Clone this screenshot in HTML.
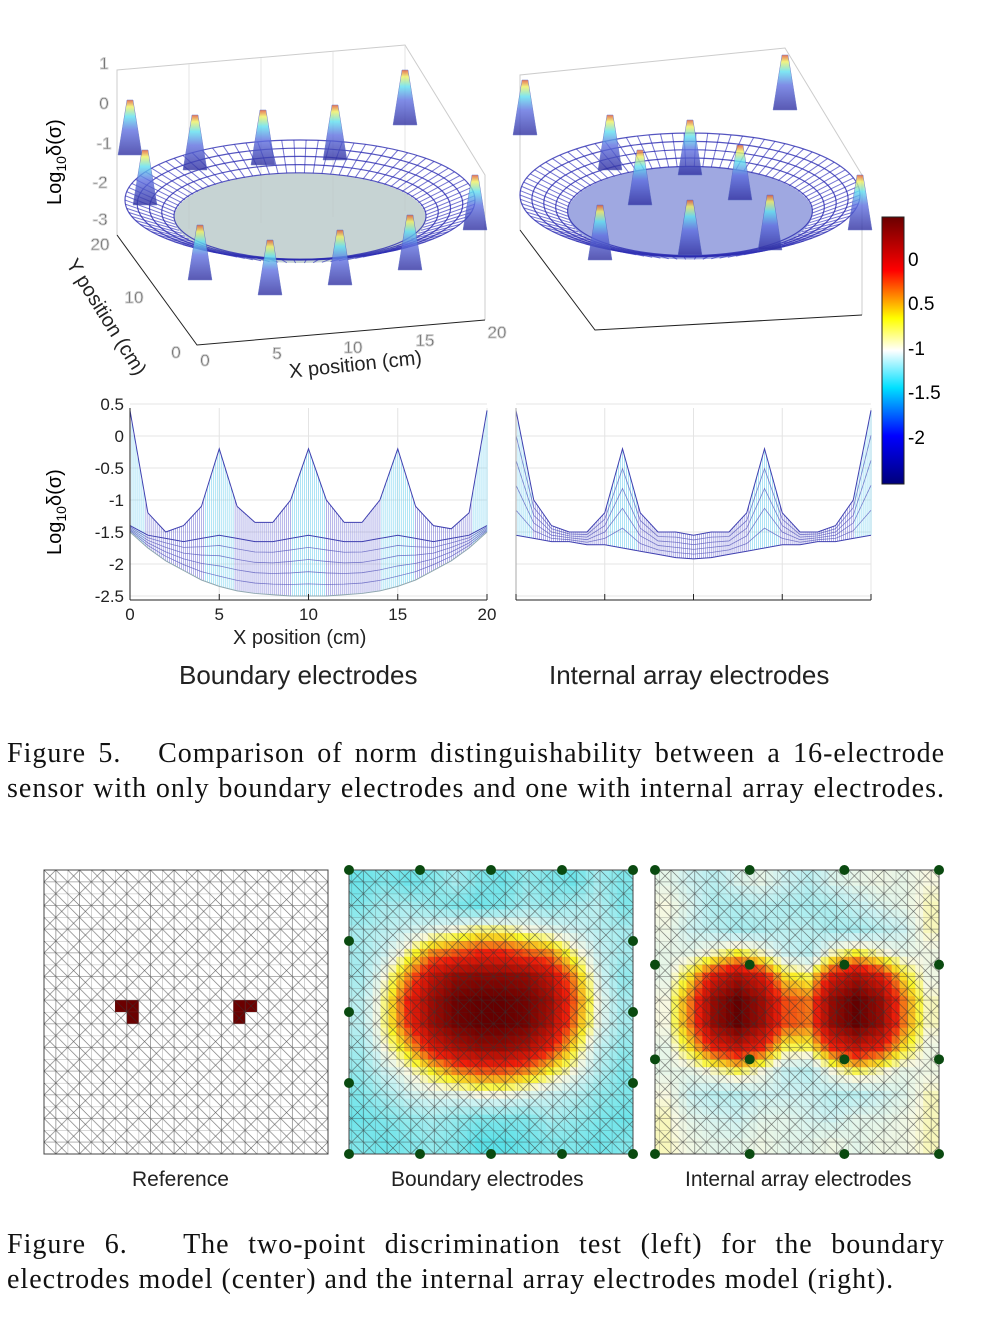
<!DOCTYPE html>
<html><head><meta charset="utf-8">
<style>
body{margin:0;background:#fff;width:999px;height:1320px;overflow:hidden;position:relative;font-family:"Liberation Sans",sans-serif}
.t{position:absolute;white-space:nowrap}
.cl{position:absolute;left:7px;width:938px;font-family:"Liberation Serif",serif;font-size:28px;letter-spacing:1px;line-height:35px;color:#111;white-space:nowrap}
.j{text-align:justify;text-align-last:justify}
.lbl{font-size:23px;color:#222}
</style></head><body>
<svg id="fig" width="999" height="1320" style="position:absolute;left:0;top:0">
<defs>
<pattern id="mesh" x="44" y="870" width="23.66" height="23.66" patternUnits="userSpaceOnUse">
<path d="M0 0H23.66M0 11.83H23.66M0 0V23.66M11.83 0V23.66M0 11.83L11.83 0L23.66 11.83L11.83 23.66Z M0 0L11.83 11.83 M23.66 23.66L11.83 11.83" stroke="#333" stroke-width="0.6" fill="none" opacity="0.75"/>
</pattern>
<linearGradient id="cb" x1="0" y1="1" x2="0" y2="0">
<stop offset="0" stop-color="#00007a"/><stop offset="0.18" stop-color="#0000ff"/><stop offset="0.36" stop-color="#00e0ff"/><stop offset="0.5" stop-color="#ffffff"/><stop offset="0.62" stop-color="#ffff00"/><stop offset="0.8" stop-color="#ff0000"/><stop offset="1" stop-color="#6b0000"/>
</linearGradient>
<linearGradient id="vg" x1="0" y1="1" x2="0" y2="0">
<stop offset="0" stop-color="#3030a0"/><stop offset="0.45" stop-color="#6070e0"/><stop offset="0.7" stop-color="#60e0f0"/><stop offset="0.88" stop-color="#f0f060"/><stop offset="1" stop-color="#e05030"/>
</linearGradient>
</defs>
<g id="g3d"></g>
<g id="g2d"></g>
<g id="gheat"></g>
<rect x="882" y="217" width="22" height="267" fill="url(#cb)" stroke="#222"/>
</svg>

<div class="t" style="left:908px;top:250px;font-size:19px">0</div>
<div class="t" style="left:908px;top:294px;font-size:19px">0.5</div>
<div class="t" style="left:908px;top:339px;font-size:19px">-1</div>
<div class="t" style="left:908px;top:383px;font-size:19px">-1.5</div>
<div class="t" style="left:908px;top:428px;font-size:19px">-2</div>

<div class="t" style="left:44px;top:205px;font-size:20px;transform:rotate(-90deg);transform-origin:0 0">Log<sub style="font-size:14px">10</sub>δ(σ)</div>
<div class="t" style="left:44px;top:555px;font-size:20px;transform:rotate(-90deg);transform-origin:0 0">Log<sub style="font-size:14px">10</sub>δ(σ)</div>
<div class="t" style="left:80px;top:255px;font-size:20px;transform:rotate(58deg);transform-origin:0 0;color:#222">Y position (cm)</div>
<div class="t" style="left:288px;top:361px;font-size:20px;transform:rotate(-6deg);transform-origin:0 0;color:#222">X position (cm)</div>
<div class="t" style="left:233px;top:627px;font-size:20px;color:#222">X position (cm)</div>
<div class="t lbl" style="left:179px;top:660px;font-size:26px">Boundary electrodes</div>
<div class="t lbl" style="left:549px;top:660px;font-size:26px">Internal array electrodes</div>

<div>
<div class="cl j" style="top:736px">Figure 5.&nbsp;&nbsp; Comparison of norm distinguishability between a 16-electrode</div>
<div class="cl j" style="top:771px">sensor with only boundary electrodes and one with internal array electrodes.</div>
</div>

<div class="t" style="left:132px;top:1168px;font-size:21px;color:#222">Reference</div>
<div class="t" style="left:391px;top:1168px;font-size:21px;color:#222">Boundary electrodes</div>
<div class="t" style="left:685px;top:1168px;font-size:21px;color:#222">Internal array electrodes</div>

<div>
<div class="cl j" style="top:1227px">Figure 6.&nbsp;&nbsp; The two-point discrimination test (left) for the boundary</div>
<div class="cl" style="top:1262px">electrodes model (center) and the internal array electrodes model (right).</div>
</div>

<script>
// ---------- data ----------
const xs = [0,1,2,3,4,5,6,7,8,9,10,11,12,13,14,15,16,17,18,19,20];
const bTop = [0.4,-1.2,-1.5,-1.4,-1.1,-0.2,-1.1,-1.35,-1.35,-1.0,-0.2,-1.0,-1.35,-1.35,-1.0,-0.2,-1.1,-1.4,-1.45,-1.2,0.4];
const bMid = [-1.4,-1.55,-1.6,-1.65,-1.6,-1.55,-1.6,-1.65,-1.65,-1.6,-1.55,-1.6,-1.65,-1.65,-1.6,-1.55,-1.6,-1.65,-1.6,-1.55,-1.4];
const bBot = [-1.5,-1.75,-1.95,-2.1,-2.25,-2.35,-2.42,-2.46,-2.48,-2.5,-2.5,-2.5,-2.48,-2.46,-2.42,-2.35,-2.25,-2.1,-1.95,-1.75,-1.5];
const iTop = [0.4,-1.0,-1.4,-1.5,-1.5,-1.2,-0.2,-1.2,-1.5,-1.5,-1.55,-1.5,-1.5,-1.2,-0.2,-1.2,-1.5,-1.5,-1.4,-1.0,0.4];
const iBot = [-1.55,-1.6,-1.65,-1.65,-1.7,-1.7,-1.75,-1.8,-1.85,-1.9,-1.92,-1.9,-1.85,-1.8,-1.75,-1.7,-1.7,-1.65,-1.65,-1.6,-1.55];
const yTicks = [0.5,0,-0.5,-1,-1.5,-2,-2.5];
const yTickLabels = ["0.5","0","-0.5","-1","-1.5","-2","-2.5"];
const xTicks = [0,5,10,15,20];
const heatB = [
[.05,.1,.05,.1,.2,.1,.05,.15,.1,.05,.2,.1],
[.1,.2,.2,.15,.1,.05,.1,.2,.15,.2,.25,.1],
[.2,.25,.3,.35,.4,.45,.45,.4,.35,.3,.25,.2],
[.2,.3,.45,.6,.65,.7,.7,.65,.6,.45,.3,.2],
[.2,.4,.6,.8,.9,.92,.92,.9,.8,.6,.35,.15],
[.25,.45,.7,.88,.98,1,1,.97,.88,.65,.4,.2],
[.25,.45,.68,.88,.97,1,1,.97,.85,.62,.38,.2],
[.2,.4,.55,.75,.85,.9,.9,.85,.72,.52,.3,.15],
[.15,.3,.4,.5,.6,.65,.65,.6,.5,.4,.25,.1],
[.1,.2,.3,.35,.35,.4,.4,.35,.3,.25,.15,.1],
[.05,.1,.15,.2,.15,.1,.1,.1,.2,.15,.1,.05],
[.1,.05,.1,.15,.1,0,0,.05,.1,.1,.05,.1]];
const heatI = [
[.36,.3,.25,.33,.36,.3,.25,.33,.36,.38,.36,.4],
[.4,.33,.22,.22,.25,.22,.2,.22,.28,.33,.36,.42],
[.38,.3,.25,.2,.22,.25,.25,.2,.2,.25,.3,.42],
[.36,.36,.42,.5,.42,.3,.25,.42,.5,.42,.36,.38],
[.36,.52,.75,.85,.75,.52,.48,.75,.85,.75,.52,.38],
[.4,.62,.9,1,.88,.66,.62,.9,1,.9,.62,.42],
[.4,.62,.9,1,.88,.66,.62,.9,1,.9,.62,.42],
[.36,.52,.72,.8,.7,.48,.48,.7,.8,.72,.52,.38],
[.36,.36,.42,.48,.4,.28,.25,.4,.48,.42,.36,.38],
[.4,.3,.25,.25,.3,.3,.3,.25,.25,.3,.34,.42],
[.42,.35,.32,.3,.35,.35,.32,.3,.35,.35,.38,.42],
[.42,.38,.35,.35,.38,.35,.35,.38,.35,.38,.38,.42]];
const elecB = [[0,0],[.25,0],[.5,0],[.75,0],[1,0],[0,.25],[1,.25],[0,.5],[1,.5],[0,.75],[1,.75],[0,1],[.25,1],[.5,1],[.75,1],[1,1]];
const elecI = [[0,0],[1/3,0],[2/3,0],[1,0],[0,1/3],[1/3,1/3],[2/3,1/3],[1,1/3],[0,2/3],[1/3,2/3],[2/3,2/3],[1,2/3],[0,1],[1/3,1],[2/3,1],[1,1]];
const refCells = [[7,11],[7,12],[6,11],[16,11],[16,12],[17,11]];
const peaks3dL = [[130,100],[195,115],[263,110],[335,105],[405,70],[475,175],[270,240],[340,230],[410,215],[200,225],[145,150]];
const peaks3dR = [[525,80],[610,115],[690,120],[785,55],[860,175],[600,205],[690,200],[770,195],[640,150],[740,145]];

const NS="http://www.w3.org/2000/svg";
function mk(tag,attrs,parent){const e=document.createElementNS(NS,tag);for(const k in attrs)e.setAttribute(k,attrs[k]);parent.appendChild(e);return e;}
function txt(x,y,s,size,parent,anchor){const e=mk('text',{x:x,y:y,'font-size':size,'font-family':'Liberation Sans, sans-serif',fill:'#222','text-anchor':anchor||'middle'},parent);e.textContent=s;return e;}

// ---------- 2D profile plots ----------
const g2=document.getElementById('g2d');
function profile(x0,x1,top,bot,mid,name,labels){
  const sx=v=>x0+(v/20)*(x1-x0), sy=v=>404+(0.5-v)*64;
  const g=mk('g',{},g2);
  
  
  for(const t of xTicks){mk('line',{x1:sx(t),x2:sx(t),y1:408,y2:600,stroke:'#e4e4e4'},g);}
  for(const t of yTicks){mk('line',{x1:x0,x2:x1,y1:sy(t),y2:sy(t),stroke:'#e4e4e4'},g);}
  const N=180;
  const interp=(arr,u)=>{const i=Math.min(19,Math.floor(u));const f=u-i;return arr[i]*(1-f)+arr[i+1]*f;};
  for(let k=0;k<=N;k++){const u=k/N*20;const tv=interp(top,u),bv=interp(bot,u);
    const ln=mk('line',{x1:sx(u),x2:sx(u),y1:sy(bv),y2:sy(tv),stroke:tv>-1?'#70d0f0':'#7878d8','stroke-width':0.7,opacity:0.8},g);
    
    }
  const series=[top,bot].concat(mid?[mid]:[]);
  series.forEach((arr,si)=>{const p=mk('polyline',{points:xs.map((x,i)=>sx(x)+','+sy(arr[i])).join(' '),fill:'none',stroke:si===1&&mid?'#90a8b0':'#4040b0','stroke-width':1},g);
    
    });
  for(let j=1;j<5;j++){const f=j/5;const arr=xs.map((x,i)=>(mid||top)[i]*(1-f)+bot[i]*f);
    mk('polyline',{points:xs.map((x,i)=>sx(x)+','+sy(arr[i])).join(' '),fill:'none',stroke:'#5050b8','stroke-width':0.8,opacity:0.7},g);}
  mk('line',{x1:x0,x2:x1,y1:600,y2:600,stroke:'#222'},g);
  if(labels){mk('line',{x1:x0,x2:x0,y1:408,y2:600,stroke:'#222'},g);
    yTicks.forEach((t,i)=>{txt(x0-6,sy(t)+6,yTickLabels[i],17,g,'end');});
    xTicks.forEach(t=>{txt(sx(t),620,String(t),17,g);});}
  else{mk('line',{x1:x0,x2:x0,y1:408,y2:600,stroke:'#aaa'},g);}
  for(const t of xTicks){mk('line',{x1:sx(t),x2:sx(t),y1:594,y2:600,stroke:'#222'},g);}
}
profile(130,487,bTop,bBot,bMid,'boundary-profile-plot',true);
profile(516,871,iTop,iBot,null,'internal-profile-plot',false);

// ---------- 3D plots (schematic) ----------
const g3=document.getElementById('g3d');
function box3d(o){const g=mk('g',{stroke:'#ccc','stroke-width':1,fill:'none'},g3);
  
  
  mk('polyline',{points:o.back},g);
  return g;}
const gl=box3d({name:'boundary-3d-plot',back:'117,235 117,70 405,45 485,175 485,320'});
mk('polyline',{points:'117,235 197,345 485,320',stroke:'#222',fill:'none'},gl);
for(let i=1;i<5;i++){mk('line',{x1:117+i*72,y1:235-i*6,x2:117+i*72,y2:70-i*6,stroke:'#e4e4e4'},gl);}
const gr=box3d({name:'internal-3d-plot',back:'520,230 520,75 785,48 862,175 862,315'});
mk('polyline',{points:'520,230 595,330 862,315',stroke:'#222',fill:'none'},gr);
[[104,69,'1'],[104,109,'0'],[104,149,'-1'],[100,188,'-2'],[100,225,'-3'],[100,250,'20'],[134,303,'10'],[176,358,'0'],[205,366,'0'],[277,359,'5'],[353,353,'10'],[425,346,'15'],[497,338,'20']].forEach(a=>txt(a[0],a[1],a[2],17,gl));
function surf(g,cx,cy,rx,ry,grey,peaks){
  mk('ellipse',{cx:cx,cy:cy+18,rx:rx*0.72,ry:ry*0.75,fill:grey?'#b8c8c8':'#5060c8',opacity:grey?0.8:0.55,stroke:'none'},g);
  for(let k=0;k<90;k++){const a=k/90*2*Math.PI;
    mk('line',{x1:cx+rx*Math.cos(a),y1:cy+ry*Math.sin(a),x2:cx+rx*0.72*Math.cos(a),y2:cy+18+ry*0.75*Math.sin(a),stroke:'#3a3ac0','stroke-width':1,opacity:0.7},g);}
  for(let j=0;j<5;j++){const f=1-j*0.07;mk('ellipse',{cx:cx,cy:cy+j*4,rx:rx*f,ry:ry*f,fill:'none',stroke:'#2a2ab0','stroke-width':1.2,opacity:0.8},g);}
  for(const p of peaks){mk('polygon',{points:(p[0]-12)+','+(p[1]+55)+' '+(p[0]-3)+','+p[1]+' '+(p[0]+3)+','+p[1]+' '+(p[0]+12)+','+(p[1]+55),fill:'url(#vg)',opacity:0.8,stroke:'#5060c0','stroke-width':0.5},g);}
}
surf(gl,300,200,175,60,true,peaks3dL);
surf(gr,690,195,170,62,false,peaks3dR);

// ---------- heatmaps ----------
const gh=document.getElementById('gheat');
function col(v){const st=[[0,[90,225,232]],[0.3,[205,242,242]],[0.4,[248,248,225]],[0.5,[250,245,40]],[0.7,[240,30,10]],[1,[100,0,0]]];
  for(let i=0;i<st.length-1;i++){if(v<=st[i+1][0]){const f=(v-st[i][0])/(st[i+1][0]-st[i][0]);const c=st[i][1].map((a,k)=>Math.round(a+(st[i+1][1][k]-a)*f));return 'rgb('+c.join(',')+')';}}return 'rgb(100,0,0)';}
function heat(x0,y0,data,elec,name){const g=mk('g',{},gh);
  
  
  const W=284,n=data.length,S=3,m=n*S,c=W/m;
  const val=(r,k)=>{const fr=Math.min(n-1,Math.max(0,(r+0.5)/S-0.5)),fk=Math.min(n-1,Math.max(0,(k+0.5)/S-0.5));
    const r0=Math.floor(fr),k0=Math.floor(fk),r1=Math.min(n-1,r0+1),k1=Math.min(n-1,k0+1),a=fr-r0,b=fk-k0;
    return data[r0][k0]*(1-a)*(1-b)+data[r0][k1]*(1-a)*b+data[r1][k0]*a*(1-b)+data[r1][k1]*a*b;};
  for(let r=0;r<m;r++)for(let k=0;k<m;k++){const cell=mk('rect',{x:x0+k*c,y:y0+r*c,width:c+0.5,height:c+0.5,fill:col(val(r,k))},g);
    
    }
  mk('rect',{x:x0,y:y0,width:W,height:W,fill:'url(#mesh)',stroke:'#444'},g);
  for(const e of elec){const d=mk('circle',{cx:x0+e[0]*W,cy:y0+e[1]*W,r:5,fill:'#0a4a10'},g);
    
    }
}
const gref=mk('g',{},gh);


mk('rect',{x:44,y:870,width:284,height:284,fill:'#fff'},gref);
for(const rc of refCells){mk('rect',{x:44+rc[0]*11.83,y:870+rc[1]*11.83,width:11.83,height:11.83,fill:'#6b0000'},gref);}
mk('rect',{x:44,y:870,width:284,height:284,fill:'url(#mesh)',stroke:'#444'},gref);
heat(349,870,heatB,elecB,'boundary-heatmap');
heat(655,870,heatI,elecI,'internal-heatmap');
</script>
</body></html>
